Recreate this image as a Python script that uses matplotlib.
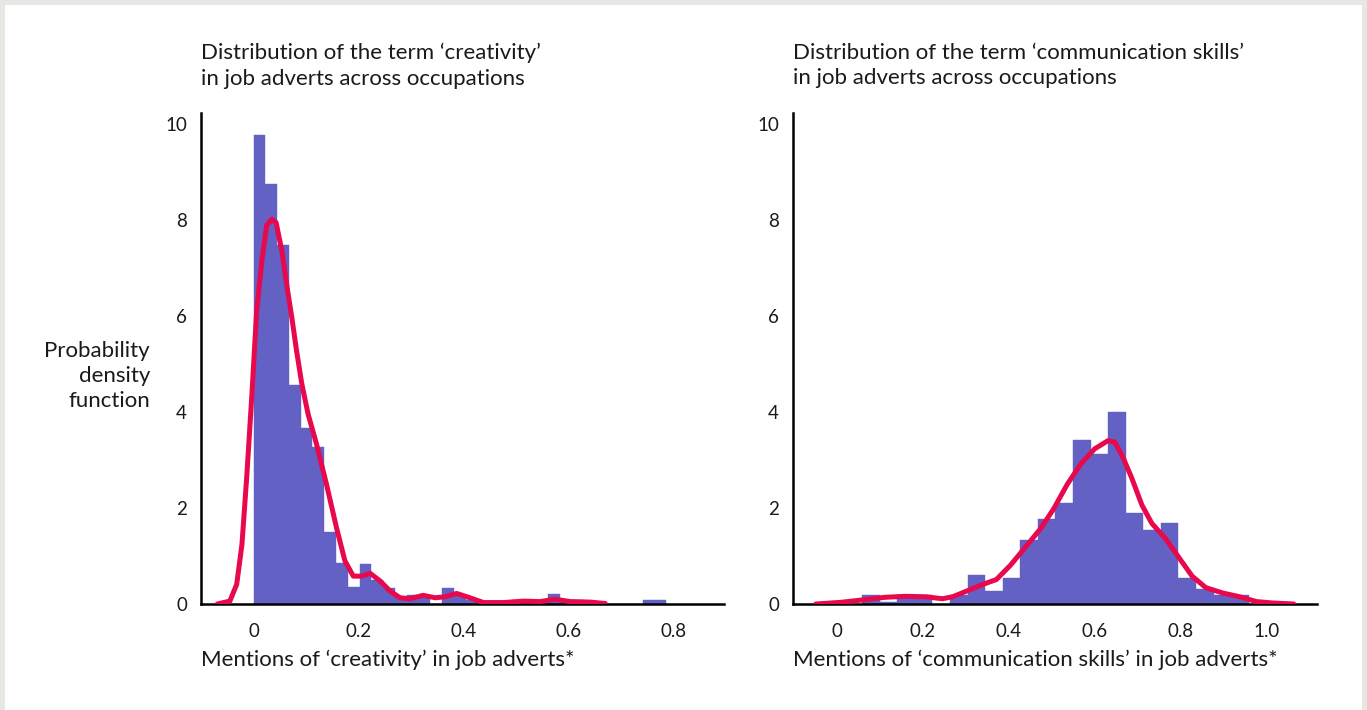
import numpy as np
import matplotlib
matplotlib.use("Agg")
import matplotlib.pyplot as plt
from matplotlib.patches import Rectangle

plt.rcParams['font.family'] = ['Lato', 'DejaVu Sans']

# ---------------- data ----------------
# Creativity histogram (35 equal bins from 0 to 0.786)
creat_range = (0.0, 0.786)
creat_heights = [9.77, 8.75, 7.47, 4.55, 3.67, 3.27, 1.50, 0.85, 0.36, 0.84,
                 0.49, 0.34, 0.14, 0.19, 0.19, 0.0, 0.34, 0.17, 0.08, 0.0,
                 0.0, 0.0, 0.08, 0.06, 0.04, 0.20, 0.08, 0.08, 0.0, 0.0,
                 0.0, 0.0, 0.0, 0.08, 0.08]
creat_kde_x = [-0.069, -0.045, -0.032, -0.022, -0.013, -0.003, 0.006, 0.016,
               0.025, 0.035, 0.043, 0.054, 0.063, 0.073, 0.082, 0.092, 0.104,
               0.120, 0.139, 0.158, 0.174, 0.190, 0.206, 0.222, 0.241, 0.260,
               0.279, 0.298, 0.323, 0.346, 0.365, 0.387, 0.412, 0.438, 0.476,
               0.514, 0.546, 0.574, 0.603, 0.641, 0.670]
creat_kde_y = [0.0, 0.06, 0.41, 1.24, 2.63, 4.37, 6.10, 7.15,
               7.88, 8.01, 7.94, 7.35, 6.66, 5.96, 5.27, 4.58, 3.95,
               3.33, 2.49, 1.59, 0.90, 0.58, 0.58, 0.64, 0.48, 0.27,
               0.13, 0.11, 0.18, 0.13, 0.15, 0.22, 0.13, 0.03, 0.03,
               0.06, 0.05, 0.10, 0.05, 0.04, 0.01]

# Communication skills histogram (22 equal bins from 0.058 to 0.959)
comm_range = (0.058, 0.959)
comm_heights = [0.18, 0.05, 0.18, 0.18, 0.0, 0.18, 0.60, 0.27, 0.55, 1.34,
                1.76, 2.11, 3.42, 3.13, 4.00, 1.90, 1.55, 1.68, 0.55, 0.32,
                0.18, 0.18]
comm_kde_x = [-0.050, 0.009, 0.064, 0.112, 0.159, 0.206, 0.245, 0.269, 0.310,
              0.340, 0.371, 0.403, 0.442, 0.474, 0.505, 0.536, 0.568, 0.600,
              0.631, 0.647, 0.666, 0.686, 0.710, 0.733, 0.765, 0.796, 0.827,
              0.859, 0.898, 0.938, 0.977, 1.016, 1.064]
comm_kde_y = [0.0, 0.035, 0.09, 0.14, 0.16, 0.15, 0.11, 0.15, 0.30,
              0.41, 0.51, 0.80, 1.22, 1.57, 1.99, 2.49, 2.92, 3.23,
              3.40, 3.37, 3.05, 2.63, 2.06, 1.68, 1.36, 0.97, 0.58,
              0.34, 0.23, 0.15, 0.05, 0.02, 0.0]

titles = ["Distribution of the term \u2018creativity\u2019\nin job adverts across occupations",
          "Distribution of the term \u2018communication skills\u2019\nin job adverts across occupations"]
xlabels = ["Mentions of \u2018creativity\u2019 in job adverts*",
           "Mentions of \u2018communication skills\u2019 in job adverts*"]
ylabel = "Probability\ndensity\nfunction"
yticks = [0, 2, 4, 6, 8, 10]
xticks_left = [0, 0.2, 0.4, 0.6, 0.8]
xticks_right = [0, 0.2, 0.4, 0.6, 0.8, 1.0]

BAR = "#6461c4"
LINE = "#e8084c"
TXT = "#1a1a1a"
FS = 16

W, H = 1367, 710
fig = plt.figure(figsize=(W / 100, H / 100), dpi=100)
fig.patch.set_facecolor("white")

# light grey frame
frame = "#e8e7e3"
fig.add_artist(Rectangle((0, 1 - 5 / H), 1, 5 / H, transform=fig.transFigure, color=frame, lw=0, zorder=0))
fig.add_artist(Rectangle((0, 0), 5 / W, 1, transform=fig.transFigure, color=frame, lw=0, zorder=0))
fig.add_artist(Rectangle((1 - 5 / W, 0), 5 / W, 1, transform=fig.transFigure, color=frame, lw=0, zorder=0))

def px(x0, y0, x1, y1):
    return [x0 / W, 1 - y1 / H, (x1 - x0) / W, (y1 - y0) / H]

axL = fig.add_axes(px(201, 113, 724, 604))
axR = fig.add_axes(px(793, 113, 1317, 604))

panels = [
    (axL, creat_range, creat_heights, creat_kde_x, creat_kde_y, (-0.1, 0.896), xticks_left,
     ["0", "0.2", "0.4", "0.6", "0.8"]),
    (axR, comm_range, comm_heights, comm_kde_x, comm_kde_y, (-0.103, 1.118), xticks_right,
     ["0", "0.2", "0.4", "0.6", "0.8", "1.0"]),
]

for i, (ax, rng, heights, kx, ky, xlim, xt, xtl) in enumerate(panels):
    edges = np.linspace(rng[0], rng[1], len(heights) + 1)
    ax.bar(edges[:-1], heights, width=np.diff(edges), align="edge", color=BAR,
           edgecolor=BAR, linewidth=0.3, zorder=2)
    ax.plot(kx, ky, color=LINE, lw=3.6, solid_capstyle="round", solid_joinstyle="round", zorder=3)
    ax.set_xlim(*xlim)
    ax.set_ylim(0, 10.22)
    ax.set_yticks(yticks)
    ax.set_yticklabels([str(t) for t in yticks])
    ax.set_xticks(xt)
    ax.set_xticklabels(xtl)
    for s in ["top", "right"]:
        ax.spines[s].set_visible(False)
    for s in ["left", "bottom"]:
        ax.spines[s].set_linewidth(1.8)
        ax.spines[s].set_color("black")
    ax.tick_params(axis="both", length=0, labelsize=13.5, colors=TXT)
    ax.tick_params(axis="y", pad=10)
    ax.tick_params(axis="x", pad=14)
    ax.set_facecolor("none")
    # title and xlabel left aligned with axis
    ax.text(0, 1.0 + 47.5 / 491, titles[i], transform=ax.transAxes, ha="left", va="center",
            fontsize=FS, color=TXT, linespacing=1.37)
    ax.text(0, -56 / 491, xlabels[i], transform=ax.transAxes, ha="left", va="center",
            fontsize=FS, color=TXT)

fig.text(150 / W, 1 - 376 / H, ylabel, ha="right", va="center", fontsize=FS,
         color=TXT, linespacing=1.31, multialignment="right")

fig.savefig("out.png", dpi=100, facecolor=fig.get_facecolor())
